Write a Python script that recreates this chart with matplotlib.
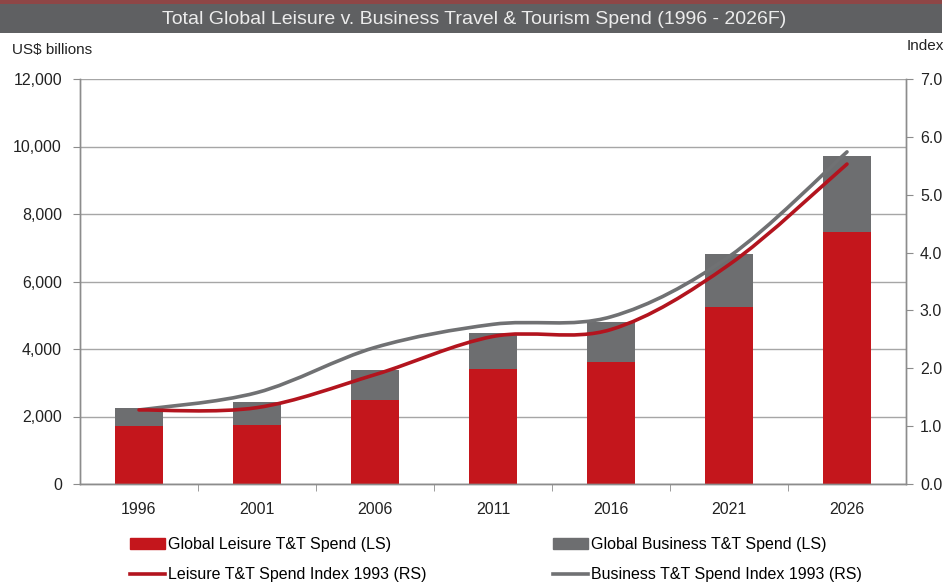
import matplotlib
matplotlib.use("Agg")
import matplotlib.pyplot as plt
from matplotlib.patches import Rectangle, Patch, PathPatch
from matplotlib.lines import Line2D
from matplotlib.path import Path
from matplotlib.ticker import FuncFormatter, FixedLocator
import numpy as np

# values
years = ["1996", "2001", "2006", "2011", "2016", "2021", "2026"]
leisure_spend = [1720, 1750, 2500, 3415, 3620, 5230, 7455]     # US$ bn
business_spend = [540, 690, 890, 1070, 1190, 1570, 2270]       # US$ bn
leisure_index = [1.28, 1.32, 1.89, 2.55, 2.67, 3.79, 5.53]
business_index = [1.28, 1.58, 2.36, 2.76, 2.89, 3.93, 5.74]

RED = "#c4161c"
GREY = "#6d6e70"
RED_LINE = "#b3141e"
GREY_LINE = "#707173"
AXIS = "#8c8c8c"

narrow = ["Liberation Sans Narrow", "Liberation Sans", "DejaVu Sans"]
regular = ["Liberation Sans", "DejaVu Sans"]
plt.rcParams["font.family"] = regular


def smooth_path(xs, ys):
    # Excel-style smoothed line as cubic bezier segments
    xs = np.asarray(xs, float)
    ys = np.asarray(ys, float)
    n = len(xs)
    verts = [(xs[0], ys[0])]
    codes = [Path.MOVETO]
    for i in range(n - 1):
        i0 = max(i - 1, 0)
        i3 = min(i + 2, n - 1)
        c1 = (xs[i] + (xs[i + 1] - xs[i0]) / 6, ys[i] + (ys[i + 1] - ys[i0]) / 6)
        c2 = (xs[i + 1] - (xs[i3] - xs[i]) / 6, ys[i + 1] - (ys[i3] - ys[i]) / 6)
        verts += [c1, c2, (xs[i + 1], ys[i + 1])]
        codes += [Path.CURVE4] * 3
    return Path(verts, codes)


fig = plt.figure(figsize=(9.48, 5.86), dpi=100)
ax = fig.add_axes([80 / 948, 1 - 484 / 586, 826 / 948, 405 / 586])
ax2 = ax.twinx()

x = np.arange(len(years))
ax.bar(x, leisure_spend, width=0.41, color=RED, zorder=2)
ax.bar(x, business_spend, width=0.41, bottom=leisure_spend, color=GREY, zorder=2)

ax.set_xlim(-0.5, len(years) - 0.5)
ax.set_ylim(0, 12000)
ax.set_yticks(np.arange(0, 12001, 2000))
ax.yaxis.set_major_formatter(FuncFormatter(lambda v, p: f"{int(v):,}"))
ax.grid(axis="y", color="#a6a6a6", linewidth=1.0, zorder=0)
ax.set_axisbelow(True)

ax.set_xticks(x)
ax.set_xticklabels(years)
ax.tick_params(axis="x", which="major", length=0, pad=13, labelsize=11.5, labelcolor="#222222")
ax.xaxis.set_minor_locator(FixedLocator(np.arange(0.5, len(years) - 1, 1.0)))
ax.tick_params(axis="x", which="minor", length=5, color=AXIS, direction="out")
ax.tick_params(axis="y", length=5, color=AXIS, pad=8, labelsize=11.5, labelcolor="#222222")

ax2.set_ylim(0, 7)
ax2.set_yticks(np.arange(0, 7.01, 1.0))
ax2.yaxis.set_major_formatter(FuncFormatter(lambda v, p: f"{v:.1f}"))
ax2.tick_params(axis="y", length=5, color=AXIS, pad=5, labelsize=11.5, labelcolor="#222222")

for a in (ax, ax2):
    a.spines["top"].set_visible(False)
    for s in ("left", "right", "bottom"):
        a.spines[s].set_color(AXIS)
        a.spines[s].set_linewidth(1.0)

ax2.add_patch(PathPatch(smooth_path(x, business_index), facecolor="none",
                        edgecolor=GREY_LINE, linewidth=2.6, capstyle="round", zorder=3))
ax2.add_patch(PathPatch(smooth_path(x, leisure_index), facecolor="none",
                        edgecolor=RED_LINE, linewidth=2.6, capstyle="round", zorder=4))

# title band
fig.patches.append(Rectangle((0, 1 - 33 / 586), 0.994, 29 / 586, transform=fig.transFigure,
                             facecolor="#5f6062", edgecolor="none", zorder=0))
fig.patches.append(Rectangle((0, 1 - 4 / 586), 0.994, 4 / 586, transform=fig.transFigure,
                             facecolor="#8e4646", edgecolor="none", zorder=0))
fig.text(0.5, 1 - 19 / 586, "Total Global Leisure v. Business Travel & Tourism Spend (1996 - 2026F)",
         ha="center", va="center", color="#ececec", fontsize=14, family=narrow)

fig.text(12 / 948, 1 - 50 / 586, "US$ billions", ha="left", va="center",
         fontsize=11, family=narrow, color="#222222")
fig.text(944 / 948, 1 - 46 / 586, "Index", ha="right", va="center",
         fontsize=11, family=narrow, color="#222222")

leg_kw = dict(loc="upper left", ncol=1, frameon=False, borderpad=0, borderaxespad=0,
              handlelength=2.2, handletextpad=0.15, labelspacing=0.95,
              prop={"family": narrow, "size": 11.5})
fig.legend(handles=[Patch(color=RED), Line2D([], [], color=RED_LINE, linewidth=2.6)],
           labels=["Global Leisure T&T Spend (LS)", "Leisure T&T Spend Index 1993 (RS)"],
           bbox_to_anchor=(130 / 948, 1 - 537 / 586), **leg_kw)
fig.legend(handles=[Patch(color=GREY), Line2D([], [], color=GREY_LINE, linewidth=2.6)],
           labels=["Global Business T&T Spend (LS)", "Business T&T Spend Index 1993 (RS)"],
           bbox_to_anchor=(553 / 948, 1 - 537 / 586), **leg_kw)

fig.savefig("out.png", dpi=100)
